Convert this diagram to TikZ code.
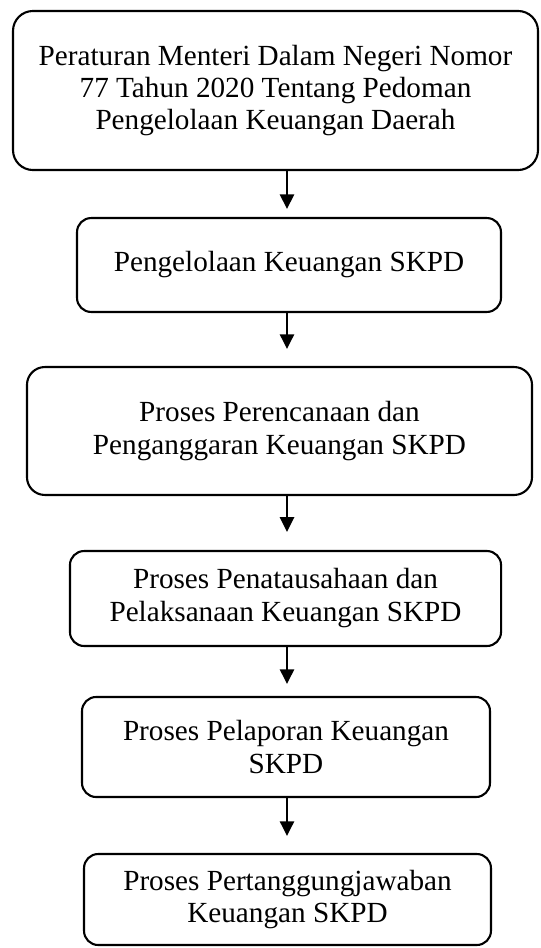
\documentclass[tikz,border=0pt]{standalone}
\usepackage{fontspec}
\setmainfont{Liberation Serif}
\usetikzlibrary{arrows.meta, positioning}

\begin{document}
\begin{tikzpicture}[
      x=0.476pt, y=-0.476pt,
      box/.style={rectangle, draw=black, line width=1pt, rounded corners=6.7pt,
                  align=center, inner sep=0pt,
                  font=\fontsize{13.9}{15.7}\selectfont},
      arr/.style={-{Triangle[length=7pt,width=6.7pt]}, line width=1.2pt},
      ]
    \useasboundingbox (0,0) rectangle (541,948);
    \node[box, rounded corners=9.5pt, font=\fontsize{13.9}{15.2}\selectfont,
          minimum width=249.9pt, minimum height=75.7pt] (perda) at (275.5,90.5)
      {Peraturan Menteri Dalam Negeri Nomor\\77 Tahun 2020 Tentang Pedoman\\Pengelolaan Keuangan Daerah};
    \node[box, minimum width=201.8pt, minimum height=44.7pt] (kelola) at (289,265)
      {Pengelolaan Keuangan SKPD};
    \node[box, rounded corners=8.5pt, minimum width=240.4pt, minimum height=60.9pt] (rencana) at (279.5,431)
      {Proses Perencanaan dan\\Penganggaran Keuangan SKPD};
    \node[box, minimum width=205.2pt, minimum height=45.2pt] (tatausaha) at (285.5,598.5)
      {Proses Penatausahaan dan\\Pelaksanaan Keuangan SKPD};
    \node[box, minimum width=194.2pt, minimum height=47.6pt] (lapor) at (286,747)
      {Proses Pelaporan Keuangan\\SKPD};
    \node[box, minimum width=193.7pt, minimum height=43.3pt] (tanggungjawab) at (287.5,899.5)
      {Proses Pertanggungjawaban\\Keuangan SKPD};
    \coordinate (axis) at (287,0);

    \draw[arr, shorten >=3.8pt] (perda.south -| axis) -- (kelola.north -| axis);
    \draw[arr, shorten >=8.1pt] (kelola.south -| axis) -- (rencana.north -| axis);
    \draw[arr, shorten >=8.6pt] (rencana.south -| axis) -- (tatausaha.north -| axis);
    \draw[arr, shorten >=5.7pt] (tatausaha.south -| axis) -- (lapor.north -| axis);
    \draw[arr, shorten >=8.1pt] (lapor.south -| axis) -- (tanggungjawab.north -| axis);
  \end{tikzpicture}
\end{document}
